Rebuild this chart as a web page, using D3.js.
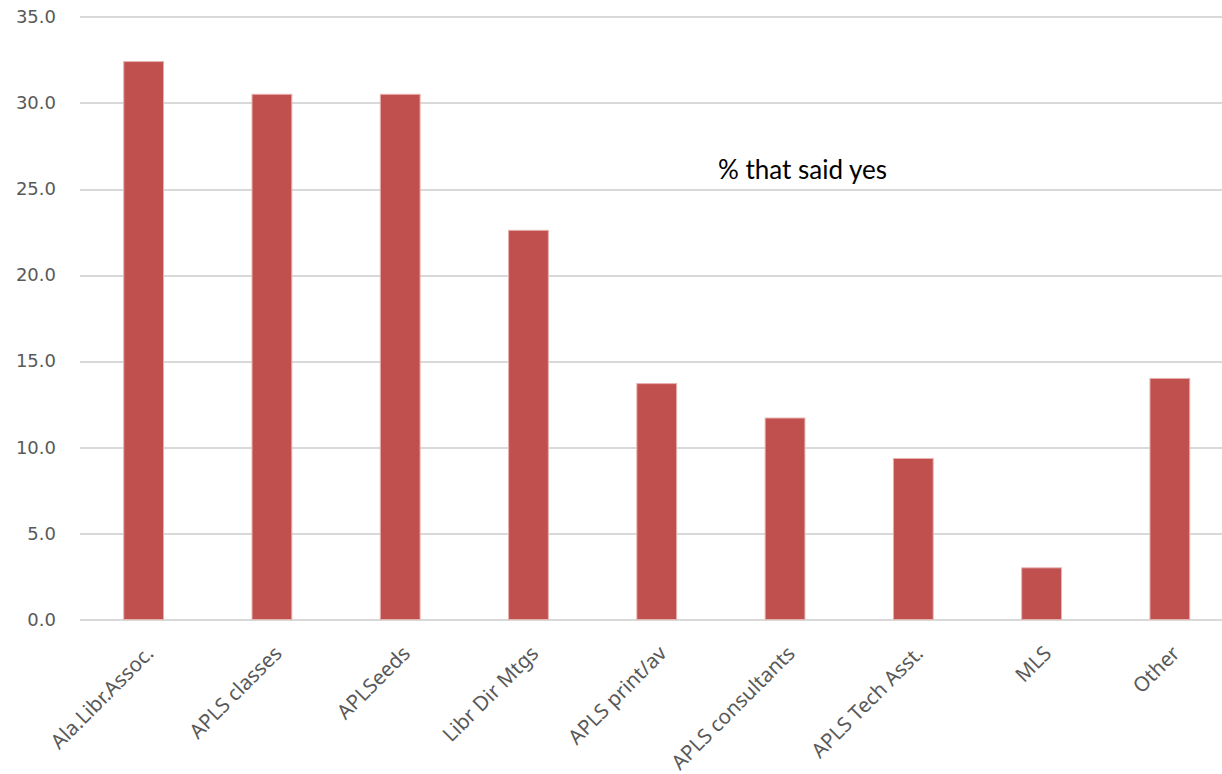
<!DOCTYPE html>
<meta charset="utf-8">
<head>
    <title>% that said yes</title>
</head>
<style>
    body {
        margin: 0;
        background-color: #ffffff;
    }

    .grid line {
        stroke: #d9d9d9;
        stroke-width: 2px;
        shape-rendering: crispEdges;
    }

    .grid path {
        display: none;
    }

    .yAxis text {
        font-family: "DejaVu Sans", Verdana;
        font-size: 18px;
        fill: #595959;
    }

    .xAxis text {
        font-family: "Noto Sans", "Open Sans", Arial;
        font-size: 20.5px;
        fill: #595959;
    }

    .bar {
        fill: #c0504d;
        stroke: #e6b0ae;
        stroke-width: 1px;
    }

    text.title {
        font-family: Lato, "Noto Sans", Arial;
        font-size: 26px;
        fill: #000000;
    }
</style>
<body>
    <svg width="1222" height="774"></svg>
</body>
<script src="https://d3js.org/d3.v7.min.js"></script>
<script>
    var categories = ["Ala.Libr.Assoc.", "APLS classes", "APLSeeds", "Libr Dir Mtgs", "APLS print/av",
        "APLS consultants", "APLS Tech Asst.", "MLS", "Other"];
    var values = [32.4, 30.5, 30.5, 22.6, 13.7, 11.7, 9.35, 3.0, 14.0];
    var yTicks = [0, 5, 10, 15, 20, 25, 30, 35];
    var title = "% that said yes";

    var svg = d3.select("svg");

    var x = d3.scaleBand()
        .domain(categories)
        .range([79.5, 1234])
        .paddingInner(0.69)
        .paddingOuter(0.345);

    var y = d3.scaleLinear()
        .domain([0, 35])
        .range([619.5, 16.8]);

    // gridlines
    svg.append("g")
        .attr("class", "grid")
        .attr("transform", "translate(80,0)")
        .call(d3.axisLeft(y).tickValues(yTicks).tickSize(-1142).tickFormat(""));

    // y labels
    var yAxis = svg.append("g")
        .attr("class", "yAxis")
        .attr("transform", "translate(56,0)")
        .call(d3.axisLeft(y).tickValues(yTicks).tickSize(0).tickPadding(0).tickFormat(d3.format(".1f")));
    yAxis.select(".domain").remove();

    svg.selectAll(".bar")
        .data(values)
        .enter()
        .append("rect")
        .attr("class", "bar")
        .attr("x", (d, i) => x(categories[i]))
        .attr("width", x.bandwidth())
        .attr("y", d => y(d))
        .attr("height", d => y(0) - y(d));

    var xAxis = svg.append("g")
        .attr("class", "xAxis")
        .attr("transform", "translate(0," + y(0) + ")")
        .call(d3.axisBottom(x).tickSize(0));
    xAxis.select(".domain").remove();
    xAxis.selectAll("text")
        .attr("text-anchor", "end")
        .attr("dy", "0.35em")
        .attr("transform", "translate(4,28) rotate(-45)");

    svg.append("text")
        .attr("class", "title")
        .attr("x", 718)
        .attr("y", 179)
        .text(title);
</script>
